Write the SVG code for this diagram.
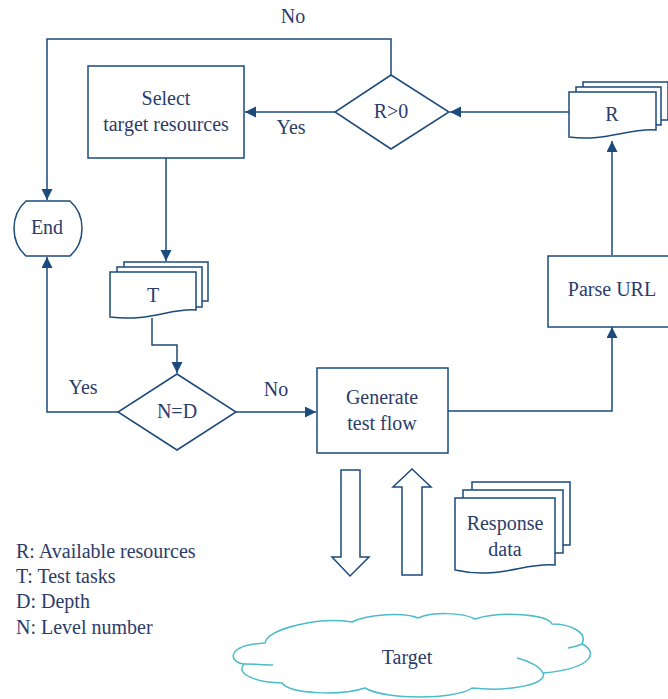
<svg xmlns="http://www.w3.org/2000/svg" width="668" height="699" viewBox="0 0 668 699">
<defs>
<marker id="arr" markerUnits="userSpaceOnUse" markerWidth="12" markerHeight="12" refX="11" refY="5.5" orient="auto">
<path d="M0,0 L11,5.5 L0,11 Z" fill="#1b4a7c"/>
</marker>
</defs>
<style>
.s{fill:#fff;stroke:#1b4a7c;stroke-width:1.5}
.c{fill:none;stroke:#1b4a7c;stroke-width:1.5}
.t{font-family:"Liberation Serif","DejaVu Serif",serif;font-size:20px;fill:#2c3c6a;text-anchor:middle}
.l{font-family:"Liberation Serif","DejaVu Serif",serif;font-size:20px;fill:#2c3c6a}
.cloud{fill:#fff;stroke:#4bbcc8;stroke-width:1.5}
</style>
<rect width="668" height="699" fill="#fff"/>

<g id="connectors">
<path class="c" d="M166,158 V261" marker-end="url(#arr)"/>
<path class="c" d="M152,318 V345 H177 V373" marker-end="url(#arr)"/>
<path class="c" d="M236,412 H316" marker-end="url(#arr)"/>
<path class="c" d="M118,412 H47 V257" marker-end="url(#arr)"/>
<path class="c" d="M391,75 V39 H47 V200" marker-end="url(#arr)"/>
<path class="c" d="M335,112 H245" marker-end="url(#arr)"/>
<path class="c" d="M569,112 H450" marker-end="url(#arr)"/>
<path class="c" d="M612,255 V141" marker-end="url(#arr)"/>
<path class="c" d="M448,411 H612 V327" marker-end="url(#arr)"/>
<text class="t" x="293" y="23">No</text>
<text class="t" x="291" y="134">Yes</text>
<text class="t" x="276" y="396">No</text>
<text class="t" x="83" y="394">Yes</text>
</g>

<g id="select">
<rect class="s" x="88" y="66" width="156" height="92"/>
<text class="t" x="166" y="105">Select</text>
<text class="t" x="166" y="131">target resources</text>
</g>

<g id="r-cond">
<path class="s" d="M391,75 L449,112 L391,149 L335,112 Z"/>
<text class="t" x="391" y="118">R&gt;0</text>
</g>

<g id="r-doc">
<path class="s" d="M583,82 H668 V120 H583 Z"/>
<path class="s" d="M576,87 H661 V125 C640,123 610,130 576,130 Z"/>
<path class="s" d="M569,92 H656 V130 C628,128 605,142 569,137 Z"/>
<text class="t" x="612" y="121">R</text>
</g>

<g id="end">
<path class="s" d="M26,201 H70 C86,215 86,242 70,256 H26 C10,242 10,215 26,201 Z"/>
<text class="t" x="47" y="234">End</text>
</g>

<g id="t-doc">
<path class="s" d="M124,262 H208 V301 H124 Z"/>
<path class="s" d="M117,267 H202 V307 H117 Z"/>
<path class="s" d="M110,272 H196 V310 C170,308 150,322 110,317 Z"/>
<text class="t" x="153" y="302">T</text>
</g>

<g id="parse">
<rect class="s" x="548" y="256" width="125" height="71"/>
<text class="t" x="612" y="296">Parse URL</text>
</g>

<g id="nd-cond">
<path class="s" d="M177,374 L236,412 L177,450 L118,412 Z"/>
<text class="t" x="177" y="418">N=D</text>
</g>

<g id="generate">
<rect class="s" x="317" y="368" width="131" height="85"/>
<text class="t" x="382" y="404">Generate</text>
<text class="t" x="382" y="430">test flow</text>
</g>

<g id="down-arrow">
<path class="s" d="M341,470 H360 V557 H369 L350,576 L332,557 H341 Z"/>
</g>
<g id="up-arrow">
<path class="s" d="M402,575 V487 H393 L412,469 L431,487 H422 V575 Z"/>
</g>

<g id="response-doc">
<path class="s" d="M472,482 H570 V545 H472 Z"/>
<path class="s" d="M463,490 H563 V553 H463 Z"/>
<path class="s" d="M455,498 H555 V565 C525,562 500,580 455,570 Z"/>
<text class="t" x="505" y="530">Response</text>
<text class="t" x="505" y="556">data</text>
</g>

<g id="legend">
<text class="l" x="16" y="558">R: Available resources</text>
<text class="l" x="16" y="583">T: Test tasks</text>
<text class="l" x="16" y="608">D: Depth</text>
<text class="l" x="16" y="634">N: Level number</text>
</g>

<g id="target">
<path class="cloud" d="M265,643 C268,628 320,617 352,622 C368,614 405,612 418,618 C432,612 462,612 475,619 C500,611 548,614 552,624 C570,624 588,632 582,644 C596,650 598,668 543,673 C548,684 510,692 472,688 C455,700 385,700 365,688 C340,696 290,694 282,683 C255,682 235,674 244,664 C228,662 226,645 265,643 Z"/>
<path class="c" style="stroke:#4bbcc8" d="M244,664 C254,664 264,665 273,665"/>
<path class="c" style="stroke:#4bbcc8" d="M582,644 C578,646 573,647 568,648"/>
<path class="c" style="stroke:#4bbcc8" d="M517,658 C530,661 540,667 543,673"/>
<text class="t" x="407" y="664">Target</text>
</g>
</svg>
